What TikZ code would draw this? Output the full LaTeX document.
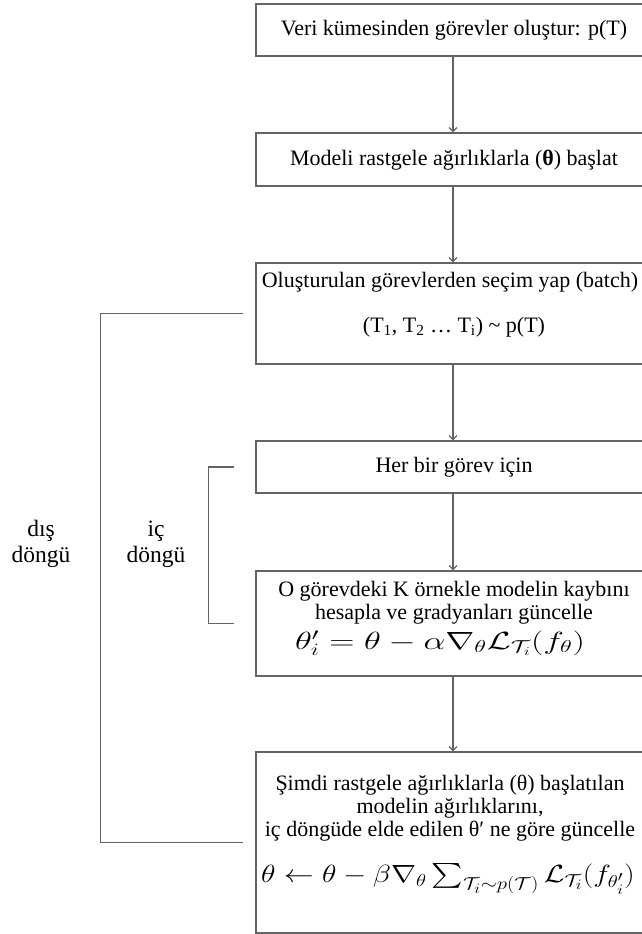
\documentclass[tikz,border=0pt]{standalone}
\usepackage[no-math]{fontspec}
\setmainfont{Liberation Serif}
\usepackage{amsmath}
\usepackage{graphicx}
\usetikzlibrary{arrows.meta}
\definecolor{linecol}{RGB}{100,100,100}
\tikzset{
  box/.style={draw=linecol, line width=1.2pt, rectangle, minimum width=394pt, inner sep=0pt},
  txt/.style={font=\fontsize{22}{23}\selectfont, align=center, inner sep=0pt},
  lbl/.style={font=\fontsize{23.5}{26}\selectfont, align=center, inner sep=0pt},
  flow/.style={draw=linecol, line width=1.2pt, -{Straight Barb[length=4pt,width=8pt]}},
  brk/.style={draw=linecol, line width=1.2pt}
}
\begin{document}
\begin{tikzpicture}[x=1pt,y=-1pt]
\useasboundingbox (0,0) rectangle (642,934);
\clip (0,0) rectangle (642,934);
\fill[white] (0,0) rectangle (642,934);
% boxes
\node[box, minimum height=52pt]  (b1) at (453,30) {};
\node[box, minimum height=53pt]  (b2) at (453,159.5) {};
\node[box, minimum height=101pt] (b3) at (453,313.5) {};
\node[box, minimum height=52pt]  (b4) at (453,467) {};
\node[box, minimum height=105pt] (b5) at (453,623.5) {};
\node[box, minimum height=181pt] (b6) at (453,842.5) {};
% texts
\node[txt] (t1) at (454,30) {Veri kümesinden görevler oluştur: p(T)};
\node[txt] (t2) at (454,160) {Modeli rastgele ağırlıklarla (\textbf{θ}) başlat};
\node[txt] (t3a) at (450,282) {Oluşturulan görevlerden seçim yap (batch)};
\node[txt] (t3b) at (454,327) {(T\textsubscript{1}, T\textsubscript{2} … T\textsubscript{i}) \textasciitilde{} p(T)};
\node[txt] (t4) at (454,467) {Her bir görev için};
\node[txt] (t5) at (454,603) {O görevdeki K örnekle modelin kaybını\\hesapla ve gradyanları güncelle};
\node[inner sep=0pt] (t5m) at (440,643) {\fontsize{24}{28}\selectfont\scalebox{1.4}[1.0]{$\theta'_i = \theta - \alpha\nabla_\theta\mathcal{L}_{\mathcal{T}_i}(f_\theta)$}};
\node[txt] (t6) at (450,808) {Şimdi rastgele ağırlıklarla (θ) başlatılan\\modelin ağırlıklarını,\\iç döngüde elde edilen θ′ ne göre güncelle};
\node[inner sep=0pt] (t6m) at (448,879) {\fontsize{27}{31}\selectfont\scalebox{1.2}[1.0]{$\theta \leftarrow \theta - \beta\nabla_\theta \textstyle\sum_{\mathcal{T}_i\sim p(\mathcal{T})}\mathcal{L}_{\mathcal{T}_i}(f_{\theta'_i})$}};
% flow arrows
\draw[flow] (b1.south) -- (b2.north);
\draw[flow] (b2.south) -- (b3.north);
\draw[flow] (b3.south) -- (b4.north);
\draw[flow] (b4.south) -- (b5.north);
\draw[flow] (b5.south) -- (b6.north);
% brackets
\coordinate (o1) at ([xshift=-12pt]b3.west);
\coordinate (o2) at ([xshift=-12pt]b6.west);
\coordinate (i1) at ([xshift=-21pt]b4.west);
\coordinate (i2) at ([xshift=-21pt]b5.west);
\draw[brk] (o1) -- ++(-143,0) |- (o2);
\draw[brk] (i1) -- ++(-26,0) |- (i2);
% labels
\node[lbl] (lo) at (41,544) {dış\\döngü};
\node[lbl] (li) at (156,544) {iç\\döngü};
\end{tikzpicture}
\end{document}
